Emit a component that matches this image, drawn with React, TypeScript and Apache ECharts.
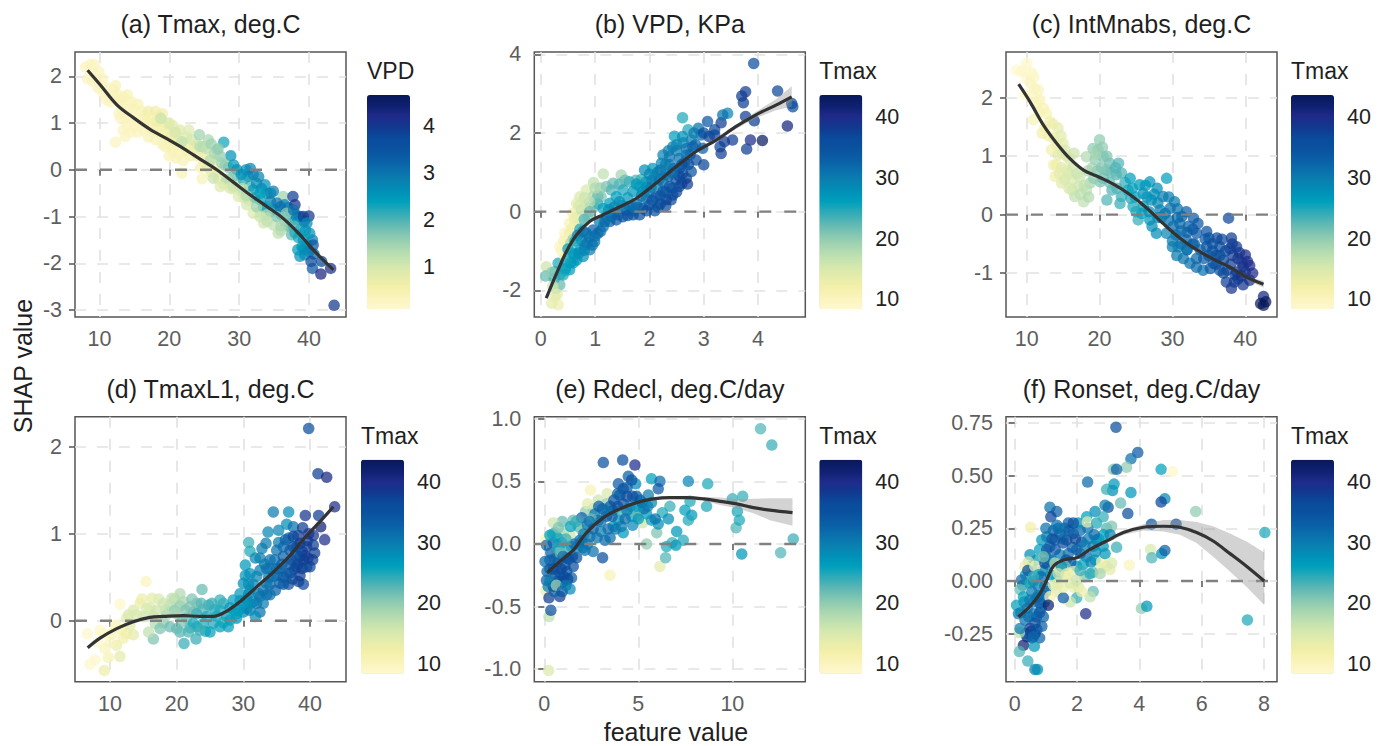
import React, { useEffect, useRef } from "react";
import * as echarts from "echarts";

// ---------- values: [feature value, SHAP value, colour value] ----------
const pointsA = [
[8,2.2,.3],[8.7,2.25,.3],[9.3,2.25,.3],[9.9,2.1,.3],[8.3,1.95,.3],[9,1.9,.3],[9.8,1.75,.3],[10.5,1.95,.3],[10.5,1.65,.3],[11,1.5,.3],[11.6,1.45,.3],[12,1.7,.4],[12.3,1.8,.4],[12.6,1.6,.4],[13,1.4,.4],[13.5,1.55,.4],[14,1.6,.4],[14.2,1.3,.4],[14.6,1.45,.4],[15,1.3,.4],[15.5,1.4,.4],[16,1.25,.4],[16,1.05,.4],[13,1.1,.3],[13.4,.85,.3],[14,.95,.3],[15,.9,.3],[15.5,.8,.3],[16.5,1.15,.5],[17,1.25,.6],[17.5,1,.5],[18,1.25,.6],[18.5,1.15,.6],[19,1.2,.6],[19,.95,.7],[19.5,1,.7],[20,.85,.8],[20.5,.95,.8],[21,.8,.8],[21.5,.85,.9],[17,.7,.4],[18,.65,.4],[19,.55,.4],[20,.55,.5],[21,.5,.5],[22,.55,.7],[22.5,.7,.9],[23,.5,.6],[23,.3,.5],[21,.25,.4],[22,.2,.4],[24,.3,.6],[25,.35,.7],[25,.15,.6],[26,.2,.7],[24.5,.05,.5],[21.8,-.07,.4],[24.7,-.19,.4],[26.5,.05,.7],[27,-.05,.8],[12.3,.59,.3],[13.7,.71,.3],
[12.8,1.2,.3],[13.3,1.25,.3],[13.8,1.1,.3],[14.3,1.15,.3],[14.8,1.05,.3],[15.3,1.1,.3],[15.8,.95,.3],[16.3,.85,.3],[16.6,1,.4],[14.4,.8,.3],[12.9,1.5,.4],[11.2,1.75,.3],[9.2,2.05,.3],[10.3,1.8,.3],[11.5,1.6,.3],
[17.2,.9,.4],[17.8,.8,.4],[18.3,.95,.5],[18.8,.8,.5],[19.3,.75,.5],[19.8,.7,.5],[20.3,.7,.6],[20.8,.65,.6],[21.3,.6,.7],[20,1,.9],[20.8,.8,1],[18.2,1.05,.7],[17.3,1.1,.5],[19.4,.5,.4],[20.5,.4,.4],[21.5,.35,.4],[20,.3,.4],[22.5,.4,.5],[23.5,.45,.7],[24,.55,.9],[23.2,.65,1],[22.8,.85,.9],
[24.3,.75,1.5],[25.6,.64,1.4],[27.8,.59,2.3],[28.8,.3,2.6],[26.8,.43,1.5],[27.3,.29,1.6],[24.4,.5,1.3],[21.8,.6,1.2],[18.8,1.1,1.1],[25.9,.21,1.3],
[24.8,.5,1.3],[25.3,.45,1.2],[26,.55,1.5],[26.5,.35,1.4],[27,.45,1.6],[27.5,.15,1.5],[28,.1,1.6],[28.5,.05,1.7],[25.5,.05,.8],[26,-.05,.7],[27,-.2,.8],[27.8,-.3,.8],[28.5,-.2,1.1],[29,-.4,1],[29.7,-.3,1.3],[30.3,-.45,1.2],[30.7,-.6,1],[31.5,-.65,1.1],[31.5,-.35,2],[32.2,-.6,1.8],[33,-.9,1.1],
[29.2,.1,2.5],[29.7,0,2.6],[31.6,.03,2.8],[31.3,-.14,2.8],[32.5,-.29,2.7],[33.7,-.32,2.6],[34.9,-.46,2.9],[32,-.43,2.5],[30.6,-.21,2.2],[29.2,-.14,1.8],[28.2,-.21,1.3],[26.3,-.18,1.1],[27.3,-.36,.9],[28.7,-.39,.9],[29.9,-.57,.9],[31.1,-.75,1],[32,-.93,.9],[33.5,-1.14,1],[34.9,-1.18,1.2],[35.6,-1.36,1.2],[36.8,-1.21,1.5],[37.5,-1.39,1.9],[36.3,-.57,1.5],
[30.3,-.1,2.6],[31,0,2.7],[32,-.1,2.8],[32.8,-.15,2.8],[33.2,-.4,2.7],[34,-.5,2.6],[34.5,-.5,2.8],[33,-.5,2.4],[34.5,-.9,1.8],[33.5,-.8,2.1],[35,-.85,2.4],[36,-.95,2.3],[36.5,-.75,2.8],[37,-.8,2.9],[37.5,-1,2.6],[38,-.95,3],[36,-1.3,1.3],[36.5,-1.1,1.7],[37.2,-1.2,1.8],[38,-1.35,2.2],[38.5,-1.45,2.3],[39.5,-1.3,2.4],[40.5,-1.5,2.9],[39.7,-1.6,2.6],[39,-1.65,2.5],[38.7,-1.85,2.6],[39.3,-1.7,2.7],[40,-1.75,2.8],[40.7,-1.8,3.2],[39.3,-1.1,3.7],[38.7,-1,3.8],
[37.7,-.57,3.9],[38,-.75,4.1],[35.4,-.71,3],[34.5,-.68,2.9],[35.9,-.79,3.1],[33,-.64,2.4],[34,-.79,2.3],[32.5,-.79,1.5],[34,-.96,1.3],[35.4,-1,1.7],[36.8,-.93,1.6],[37.8,-.86,3],[38.4,-1.07,2.5],[39.2,-1,3.9],[40,-.99,4],[39.7,-1.14,2.7],[40.1,-1.36,2.6],[38.7,-1.29,2.5],[37.8,-1.21,2],[39.2,-1.5,2.5],[40.6,-1.61,3.5],[38.4,-1.71,2.5],[39.4,-1.82,2.7],[40.3,-1.96,3.8],[40.5,-2.11,3.5],[41.8,-1.96,3.7],[41.7,-2.23,4.3],[43.1,-2.11,4.1],[43.6,-2.9,4],
[30.5,-.4,1.2],[31,-.55,1.3],[29.2,-.35,1.1],[33,-1,1.1],[34,-1.1,1.2],[36,-1.2,1.4]
];
const pointsB = [
[.1,-1.4,16],[.09,-1.64,22],[.26,-1.53,25],[.35,-1.86,22],[.26,-2.16,14],[.32,-2.37,13],[.2,-2.33,14],[.41,-1.61,25],[.53,-1.48,26],[.32,-1.31,25],
[.25,-1.7,24],[.35,-1.6,25],[.2,-1.55,20],[.45,-1.5,25],[.28,-1.95,20],[.22,-1.9,16],[.3,-2.1,14],[.6,-1.3,26],
[1.15,.96,17],[.97,.74,17],[.84,.55,15],[.72,.38,15],[.66,.21,14],[.59,-.04,12],[.53,-.3,11],[.44,-.55,10],[.35,-.89,10],[.53,-.55,13],[.66,-.13,14],[.81,.13,16],[.72,-.3,15],[.87,-.13,20],[.99,.13,21],[1.11,.38,21],[.96,.38,18],[1.21,.64,21],[1.48,.93,19],[1.33,.72,22],
[1.05,.2,24],[1.05,.4,22],[1.1,.6,20],[1,.6,18],[.9,.25,18],[.8,.35,16],[.75,.05,17],[.7,.15,15],[.62,-.2,13],[.58,-.42,12],[.48,-.72,10],[.42,-.75,11],[.38,-1,10],[.45,-1.15,13],[.6,-.7,20],[.55,-.8,18],[.72,-.45,25],[.8,-.2,23],[.9,0,22],[1.3,.55,23],[1.45,.7,23],[1.55,.8,22],[1.75,.8,23],[1.85,.82,24],
[1.63,.76,24],[1.51,.55,25],[1.39,.38,26],[1.27,.21,26],[1.15,.08,26],[1.7,.51,27],[1.82,.64,26],[1.94,.76,27],[1.91,1.06,28],[2.06,1.1,27],[2.09,.89,29],[2.22,1.23,29],[2.25,1.44,29],[2.43,1.65,29],[2.37,1.4,31],[2.46,1.92,26],[2.61,2.39,25],[2.71,2.08,25],[2.61,1.91,28],[2.77,1.82,30],
[1.6,.35,27],[1.85,.4,28],[2,.5,29],[1.95,.62,28],[2.15,.65,30],[2.25,.75,31],[2.05,.8,30],[2.35,.9,32],[2.2,1.05,31],[2.45,1.1,33],[2.55,1.1,33],[2.65,1.25,33],[2.35,1.55,30],[2.5,1.7,29],[2.62,1.75,29],[2.75,1.45,33],[2.85,1.7,32],[2.95,1.95,32],[2.82,2,30],
[.66,-1.23,27],[.78,-1.14,28],[.9,-.97,30],[.72,-.97,27],[.81,-.85,30],[.99,-.76,31],[1.05,-.55,31],[.84,-.55,31],[1.15,-.38,31],[.96,-.47,33],[1.27,-.25,33],[1.39,-.21,34],[1.51,-.13,35],[1.7,-.08,35],[1.82,-.08,36],[1.57,.04,33],[1.88,.08,34],[2,.17,35],[2.16,.11,36],[2.31,.3,37],[2.43,.42,36],[2.55,.64,37],[2.68,.85,37],[2.77,1.02,35],[2.61,.97,37],[2.49,.81,36],[2.37,.64,34],[2.25,.51,33],[2.12,.38,34],[1.94,.34,32],[1.76,.21,32],[1.63,.13,32],[1.33,-.04,33],[1.21,-.13,30],[1.08,-.25,30],[.59,-1.06,27],
[.55,-1.3,27],[.45,-1.45,26],[.62,-1.1,27],[.7,-1.05,28],[.8,-.98,29],[.85,-.8,30],[.75,-.72,30],[.68,-.6,30],[.78,-.5,31],[.9,-.65,31],[1,-.62,31],[1.1,-.5,32],[1.18,-.25,32],[1.3,-.12,32],[1.42,-.08,33],[1.6,-.1,35],[1.7,.02,34],[1.8,.1,33],[1.95,.02,36],[2.1,.02,36],[2.2,.2,36],[2.05,.28,35],[2.3,.15,37],[2.4,.3,37],[2.5,.5,37],[2.6,.72,37],[2.7,.7,38],[2.55,.9,37],[2.42,.6,35],[2.3,.5,35],[2.2,.4,35],[1.7,.12,31],[1.5,.15,30],[1.45,.25,28],[1.35,.12,29],[1.25,.05,28],
[2.9,2.12,31],[3.07,2.29,34],[3.2,2.08,37],[3.1,1.91,38],[2.98,1.61,33],[2.68,1.44,32],[2.86,1.31,36],[3,1.19,37],[3.3,1.65,37],[3.32,1.48,38],[3.38,1.78,38],[3.53,1.82,38],[3.32,2.26,38],[3.44,2.5,29],[3.35,2.46,31],[3.7,2.94,38],[3.77,3.05,38],[3.73,2.77,38],[3.77,2.42,38],[3.93,2.31,38],[3.86,1.82,40],[3.79,1.59,38],[4.08,1.81,43],[3.92,3.77,36],[4.36,3.07,37],[4.54,2.18,41],[4.62,2.75,37],[4.64,2.67,36],
[1.76,.7,27],[1.88,.52,28],[2.03,.62,30],[2.18,.82,31],[2.3,.95,31],[2.43,1,32],[2.37,1.2,31],[2.55,1.35,31],[2.68,1.6,31],[2.5,1.55,30],[2.3,1.2,30],[2.15,1,30],[2.0,.95,29],[.95,-.85,31],[.63,-.75,26],[.5,-.95,26],[.47,-1.25,26],[2.6,1.2,34],[2.8,1.65,33],[3.2,1.95,37],[3,2,36],[2.72,1.2,36]
];
const pointsC = [
[8.6,2.47,8.5],[10,2.59,9],[9.3,2.45,9],[10.7,2.42,9.5],[10,2.33,9],[11.1,2.16,10],[11.6,2.13,10],[9.8,2.05,9.5],[10.7,2.05,10],[11.8,1.96,11],[12.3,1.82,11],[10.9,1.62,11],[12.7,1.73,11],[13.2,1.59,12],[12.1,1.39,12],[14.3,1.48,14],[13.7,1.31,13],[15,1.22,14],[13.4,1.11,12],[14.3,1.02,14],[13.7,.85,12],[13.9,.65,12],[14.8,.54,14],[15.5,.76,15],[16.2,.59,15],[16.6,.31,17],[17.8,.22,17],[18.2,.42,17],[17.3,.65,16],[16.4,.82,16],[17.1,.48,16],[18.7,.54,19],[18.2,.99,18],[19.1,1.13,20],[20,1.28,20],[19.8,1.11,20],[19.4,.94,20],[20.5,.99,21],[21.4,.88,22],[22.6,.88,23],[21,.76,21],[23,.71,23],[22.3,.68,23],[20.1,.56,21],[21,.25,23],[21.7,.42,23],[23,.31,24],[22.8,.19,24],
[11,2.35,9.5],[9.8,2.45,9],[10.5,2.25,10],[11.3,1.9,10.5],[11.7,1.75,11],[12.5,1.5,12],[13,1.35,12],[13.6,1.55,13],[14.2,1.2,13],[14.7,1.35,14],[14.9,1.05,14],[15.3,1.1,15],[15.9,.95,15],[14.1,.85,13],[14.5,.7,14],[15.2,.6,15],[15.8,.7,15],[16.2,.42,16],[16.9,.7,16],[17.4,.35,17],[17.9,.5,17],[18.5,.3,18],[18.4,.75,18],[19,.8,19],[19.2,.62,20],[19.7,.75,20],[20.3,.8,21],[20.5,.62,22],[19.5,1.03,19],[20.4,1.15,20],[21,1,21],[21.6,.72,22],[22.2,.8,23],[21.4,.55,22],[22.4,.45,23],[23.5,.55,24],
[24.2,.62,26],[25.5,.51,27],[23.9,.42,25],[26.9,.56,27],[27.9,.45,28],[29.2,.62,26],[26,.36,28],[24.6,.14,25],[25.3,-.09,24],[26,.14,27],[27.1,.25,28],[28.7,.31,30],[30.3,.22,30],[28.3,.08,30],[29.7,.11,31],[31.9,.05,33],[31.3,-.03,33],[32.9,-.06,34],[37.7,-.06,37],[26.9,-.09,27],[27.8,-.32,28],[29,.02,31],[30.1,-.2,32],[29.2,-.32,29],[30.8,-.55,30],[31.5,-.75,31],[32.4,-.83,31],[34.2,-.95,31],[33.3,-.75,32],[31.9,-.43,33],[33.3,-.32,34],[34.7,-.29,35],[34.7,-.55,34],[36.1,-.4,37],[36.5,-.55,36],[38.1,-.4,38],[35.6,-.83,35],[37.9,-.58,38],[37,-.78,37],[40,-.69,40],[38.8,-.55,38],[40.6,-.87,40],[39.7,-.89,39],[38.1,-1.26,39],[37.4,-1.15,38],[39.7,-1.2,39],[40.6,-1.12,39],[38.6,-1.03,38],[42.5,-1.4,41],[42.1,-1.52,43],[42.8,-1.49,44],[42.5,-1.55,44],
[24.5,.45,26],[24.9,.3,26],[25,.05,25],[24.3,.28,25],[25.8,.02,26],[26.5,.3,27],[26.3,.5,27],[27.5,.35,28],[28,.2,29],[28,-.05,29],[27.2,-.2,28],[26.8,.05,28],[29.5,.3,30],[30.7,.1,31],[29.5,-.1,31],[30.5,-.35,31],[31,-.15,32],[32,-.3,33],[32.8,-.25,34],[33.5,-.15,34],[30,-.55,30],[30.6,-.7,30],[31.2,-.5,31],[32,-.6,32],[32.8,-.5,33],[33.3,-.9,32],[33.8,-.6,33],[34.3,-.75,34],[35,-.4,35],[35.5,-.62,35],[36,-.85,36],[35.2,-.92,34],[34.5,-.42,34],[36.8,-.42,37],[37.3,-.62,37],[37.5,-.95,37],[38.3,-.7,38],[38.8,-.98,38],[39.2,-.65,39],[39.5,-.82,39],[38.5,-1.15,38],[39,-1.1,38],[40,-.98,39],[40.3,-.8,40],[37,-1,37],[36.5,-.7,36],[39.5,-1.05,39],[38.2,-.5,38],[41,-1,40],
[15.5,1,15],[16.5,1.05,16],[14.8,.8,14],[15.8,.45,15],[28.5,-.05,30],[30.7,-.05,32],[32.2,-.2,33],[31.2,-.28,32],[33,-.5,33],[35.5,-.5,35],[36,-.7,36],[38,-.85,38],[39,-.75,39],[36.5,-.95,36],[35,-.7,34],[32,-.6,31],[30,-.45,30]
];
const pointsD = [
[6.6,-.15,9],[8.5,-.11,9],[10.8,-.05,11],[13.5,-.16,14],[12.5,-.15,13],[11,-.28,13],[11.5,-.41,14],[9.75,-.42,11],[9.25,-.32,10],[7.75,-.45,9],[7,-.5,9],[9.15,-.57,13],
[8.2,-.25,9],[9,-.15,9.5],[10,-.25,10],[10.3,-.15,11],[11.8,-.1,12],[12,-.2,12],[13,-.05,14],[12.5,.03,14],[13.5,.12,15],[14.5,.2,13],[15,.05,16],[16,.15,15],[16.5,.05,17],[17.3,.25,15],[18.3,.12,17],[19,.18,18],[19.7,.25,17],[19.7,.12,20],[20.5,.17,20],[21,.22,19],[21.3,.12,21],[22.5,.1,22],[23,.2,22],[22.3,.25,21],[24,.13,23],[24.8,.18,24],[25.7,.13,25],[26.5,.12,25],[27,.2,25],[27.5,.05,26],[27,-.02,25],[25.5,-.03,25],[23,-.07,25],[18,-.02,20],[16.8,-.03,18],[20.5,-.13,23],[22,-.08,25],[24.3,-.12,25],
[26.5,.24,24],[25.3,.2,24],[23.8,.36,22],[23.7,.2,23],[22,.16,21],[20.5,.31,18],[19.3,.26,17],[18,.2,16],[16.3,.26,14],[14.8,.25,13],[15.4,.45,10],[11.5,.19,9],[12.8,.07,15],[14,.07,15],[15.5,.14,15],[17,.12,16],[18.5,.07,18],[20,.08,19],[21.5,.03,22],[23,.08,24],[24.5,.05,25],[26,.05,25],[24,-.03,25],[22.5,-.03,25],[20.75,-.01,21],[19,-.07,22],[17.5,-.09,21],[16.5,-.21,21],[15.8,-.13,17],[21.1,-.26,24],[22.9,-.21,24],[21.8,-.13,23],[25,-.13,26],[23.5,-.11,24],[26.5,-.07,26],[27.75,-.07,26],[20,-.09,22],
[28,.15,27],[28.7,.12,27],[29,.03,27],[29.5,.23,28],[30,.1,28],[30.5,.25,29],[31,.12,30],[31.5,.22,29],[32,.2,31],[32.5,.28,30],[33,.35,31],[33.5,.3,32],[34,.42,31],[34.8,.35,33],[35,.52,31],[35.5,.6,32],[36,.42,34],[36.8,.42,35],[37,.55,35],[37.7,.6,36],[38.2,.65,37],[38.8,.6,38],[39.2,.75,38],[39.7,.72,38],[40,.62,37],[40.7,.78,38],[38.3,.45,38],[39,.42,37],[30.3,.52,27],[30.8,.42,28],[31.5,.42,29],[32.5,.72,30],[33.2,.65,30],[34,.6,31],[34.7,.7,31],[35.3,.9,30],[36,.85,32],[36.8,.95,32],[37.5,.85,36],[38.2,.98,38],[38.8,.8,38],[39.6,.92,38],[40.5,.98,39],[37.2,.7,36],
[34.5,1.25,30],[36.8,1.25,28],[39.3,1.21,39],[41.3,1.21,38],[42.2,.93,40],[41.6,1.08,42],[30.8,.9,24],[31,.8,25],[33.7,1.02,29],[35.3,1.04,29],[36.5,1.11,28],[37.5,1.08,31],[38.9,1.07,38],[33.4,.89,30],[32.8,.83,30],[31.8,.72,29],[30.3,.64,27],[30,.43,28],[31,.54,28],[32.5,.58,30],[34,.7,31],[35,.81,31],[36.3,.93,33],[37.5,.97,37],[38.5,.89,38],[39.8,1,39],[40.5,.87,38],[39.5,.85,38],[38,.85,37],[37,.81,34],[36,.74,33],[38.5,.74,37],[40.4,.7,38],[39.5,.62,37],[38.5,.52,38],[37.4,.48,37],[36.5,.54,34],[35.5,.43,33],[34.5,.51,32],[33.5,.43,31],[32,.51,29],[32.3,.31,31],[30.8,.31,29],[29.5,.31,27],[28.5,.24,26],[32.5,.1,31],[31.8,.05,28],[30.5,.14,29],[29.3,.12,27],[28,.01,26],
[39.8,2.21,36],[41.2,1.69,38],[42.5,1.65,41],[43.7,1.31,40],
[34,.3,31],[33,.2,30],[35,.6,32],[36,.5,34],[37,.65,35],[38,.62,37],[39,.7,38],[37.8,.75,36],[33.5,.6,31],[31,.2,28],[30,.2,27],[29,.08,26],[31,.35,28],[33.8,.5,31],[35.8,.65,33]
];
const pointsE = [
[3.49,-.25,11],[6.15,-.18,14],[5.44,0,20],[2.46,.43,11],[3.35,.4,15],[2.87,.35,16],[3.31,.32,20],[1.54,.19,22],[.96,.18,22],[.48,.17,16],[.09,.04,11],[.57,.09,20],[1.01,.09,19],[1.37,.07,16],[1.81,.14,24],[1.99,.11,20],[.66,-.06,17],[.39,-.26,18],[.09,-.37,13],[.25,-.58,17],[.23,-1.01,15],[5.98,.09,21],[5.23,.17,16],[2.6,.28,19],[2.2,.26,20],[2.3,.32,14],
[11.5,.92,23],[12.1,.79,24],[3.14,.65,35],[4.17,.67,36],[4.82,.63,40],[3.1,-.11,36],[13.24,.04,24],[12.57,-.07,23],[10.5,-.08,27],[10.2,.13,23],[10.37,.19,25],[10.27,.26,25],[10.55,.38,24],[10,.36,24],[8.63,.3,25],[8.69,.48,25],[7.66,.5,29],[7.75,.34,25],[7.48,.27,26],[7.84,.23,27],[7.66,.19,25],[6.45,-.11,23],[6.5,-.02,25],[6.8,.01,24],[7.04,.1,27],[7,-.01,27],[7.39,.03,25],[5.7,.52,26],[6.15,.5,32],[6.06,.44,34],[6.68,.3,24],[6.28,.25,25],[6.6,.2,28],[6.06,.16,28],[5.7,.19,26],[5.44,.24,27],[5.53,.39,30],[4.91,.38,33],[4.47,.54,33],[4.86,.48,28],[4.65,.51,35],[3.94,.48,34],[4.2,.44,35],[3.67,.27,32],[4.2,.32,35],[4.02,.39,35],[4.56,.3,30],[5.09,.27,24],[4.65,.22,26],[4.2,.09,27],[3.67,.14,27],[3.94,.19,28],[3.31,.22,35],[3.23,.03,32],[2.87,.19,32],[2.7,.24,31],[2.43,.06,31],[2.6,-.06,31],[2.16,-.05,31],[1.99,.21,33],[.12,-.01,32],[.48,.01,34],[.92,.01,30],[1.45,-.02,29],[.3,-.13,33],[.04,-.14,32],[.74,-.14,34],[1.19,-.11,33],[1.72,-.11,36],[1.54,-.18,36],[1.19,-.22,34],[1.45,-.27,33],[.12,-.29,33],[1.37,-.36,28],[.83,-.23,35],[.92,-.31,33],[.21,-.34,30],[.48,-.34,36],[.25,-.43,38],[.83,-.42,38],[.35,-.53,36],
[3,.1,30],[2.3,.15,30],[3.5,.3,34],[3.9,.3,36],[4.4,.38,36],[5.1,.35,33],[5.3,.28,31],[4.1,.25,24],[4.9,.22,22],[2,.02,31],[1.2,-.02,25],[.7,.05,26],[.3,-.2,35],[1,-.3,36],[.6,-.25,35],[2.9,.3,33],[2.5,.2,22],
[.15,-.22,32],[.35,-.07,33],[.55,-.12,33],[.7,-.03,25],[.85,-.07,22],[1,-.1,32],[1.1,-.17,35],[1.3,-.12,35],[.5,-.2,36],[.7,-.3,35],[.9,-.2,37],[1.05,-.26,36],[1.25,-.28,37],[.3,-.3,30],[.55,-.38,33],[.65,-.33,19],[.95,-.38,34],[1.15,-.33,30],[1.5,-.1,36],[1.6,0,32],[1.75,-.03,30],[1.9,.03,32],[2.05,-.03,31],[2.3,0,31],[2.1,.08,30],[1.4,.14,26],[1.7,.18,24],[1.15,.04,24],[.45,.08,24],[.75,.13,21],[.3,.07,26],[2.4,.18,31],[2.6,.12,33],[2.8,.05,31],[3,.18,31],[3.1,.28,33],[3.4,.12,32],[3.5,.05,32],[3.6,.22,33],[3.8,.12,31],[3.7,.35,35],[4.1,.14,30],[4.3,.2,32],[4.4,.27,30],[4.7,.15,29],[4.9,.3,27],[5,.2,27],[5.2,.33,31],[5.5,.3,30],[5.7,.33,29],[5.9,.2,31],[4.4,.45,34],[4.7,.38,36],[3.9,.4,33],[3.3,.26,31]
];
const pointsF = [
[.2,-.15,30],[.3,-.1,31],[.45,-.17,32],[.55,-.27,36],[.7,-.17,34],[.8,-.27,33],[.35,-.25,38],[.52,-.24,40],[.65,-.25,38],[.85,-.13,32],[.95,-.1,31],[.7,-.08,33],[.6,-.1,32],[.25,-.02,28],[.35,.03,26],[.45,0,23],[.55,.07,27],[.7,.1,26],[.75,-.07,31],[.9,.05,30],[.98,.12,32],[.8,.15,26],[1.05,.08,30],[1.15,.1,32],[1.15,.03,26],
[.22,.005,32],[.49,.125,28],[.44,.09,16],[.33,.07,13],[.42,.05,36],[.65,.07,11],[.87,.195,27],[1.03,.15,34],[.97,.085,36],[.76,.03,26],[.49,-.01,25],[.17,-.04,22],[.28,-.075,26],[.06,-.115,26],[.49,-.09,30],[.81,-.105,33],[.76,-.025,30],[.97,-.025,31],[.6,-.155,31],[.33,-.185,31],[.12,-.155,30],[.49,-.225,38],[.71,-.23,35],[.87,-.215,33],[.92,-.17,33],[.39,-.265,35],[.15,-.245,17],[.17,-.225,30],[.28,-.305,42],[.15,-.335,23],[.63,-.31,27],[.42,-.38,24],[.65,-.42,30],[.73,-.42,28],[.6,-.265,32],
[1.13,.165,34],[1.29,.195,34],[1.45,.225,34],[1.67,.195,38],[1.88,.225,33],[2.15,.185,35],[2.36,.2,30],[2.63,.195,27],[2.52,.165,30],[2.84,.165,27],[1.99,.15,33],[1.72,.13,32],[1.45,.125,30],[2.31,.115,31],[2.58,.1,26],[1.99,.07,27],[1.03,.21,30],[1.24,.24,33],[1.35,.015,26],[1.65,.1,35],[1.8,.09,34],[1.55,.2,32],[1.3,.15,34],[1.4,.25,32],[1.85,.16,33],[1.95,.2,37],[2.1,.13,33],[2.25,.17,30],[2.2,.08,26],[2.45,.09,29],[2.6,.14,28],[2.7,.2,27],[2.95,.25,23],[2.85,.22,26],[2.35,.25,31],[2.55,.22,32],[1.2,.2,35],[1.6,.25,31],[.6,0,28],[1,-.05,32],
[.8,-.15,34],[.65,-.2,36],[.4,-.13,31],[.55,-.05,30],[.9,-.07,32],[1.2,.1,30],[1.55,.18,35],[1.75,.24,34],[2.1,.24,32],[.85,.02,32],[.6,.02,24],[1,.25,31],
[.92,.115,21],[1.29,.085,17],[1.61,.07,21],[1.88,.045,14],[1.25,-.02,15],[1.35,-.05,14],[1.45,.05,18],[1.5,.07,28],[2.75,.06,14],[2.95,.07,15],[1.65,.02,14],[1.9,-.03,13],[2.05,-.03,15],[2.25,.02,21],[2.5,.04,22],
[3.25,.73,36],[3.95,.61,34],[3.73,.58,31],[3.59,.54,20],[3.17,.53,21],[3.27,.53,33],[2.34,.47,32],[4.7,.53,26],[5.06,.52,9],[4.82,.39,29],[4.7,.375,37],[5.81,.33,20],[8.03,.23,25],[4.39,.27,34],[5.18,.27,36],[3.73,.42,27],[3.63,.32,36],[3.4,.37,22],[3.14,.43,28],[2.95,.435,24],[3.19,.46,27],[3,.35,36],[2.9,.36,30],[2.58,.33,28],[2.31,.305,26],[1.13,.35,31],[1.35,.33,33],[1.16,.305,37],[.51,.255,12],[1.35,.265,31],[1.72,.275,33],[2.04,.275,28],[1.88,.275,36],[2.33,.28,14],[2.63,.275,25],[2.84,.305,24],[3.11,.26,21],[3.06,.22,29],[3.27,.16,24],[4.36,.15,15],[4.4,.11,23],[4.72,.13,28],[4.82,.145,33],[3.68,.075,10],[3.06,.055,14],[2.79,.09,13],[3.11,.085,15],[2.9,.13,27],[2.42,.035,25],[2.74,.035,19],[2.52,-.05,22],[2.42,-.075,17],[1.99,-.08,24],[1.78,-.1,16],[1.56,-.08,34],[2.15,-.05,13],[1.56,-.03,13],[1.4,-.01,14],[1.78,-.01,15],[1.99,.005,16],[2.1,.05,24],[1.67,.035,13],[1.4,.035,16],[1.13,-.075,11],[1.08,-.115,42],[2.28,-.155,40],[4.07,-.13,20],[4.24,-.12,27],[7.47,-.185,25]
];

const curveA = [[8.3,2.13],[10.1,1.82],[12.5,1.39],[14.9,1.11],[17.3,.86],[19.7,.66],[22,.46],[24.4,.23],[26.8,0],[29.2,-.27],[31.6,-.54],[34,-.79],[36.3,-1.04],[38.7,-1.39],[41.1,-1.79],[43.5,-2.14]];
const curveB = [[.1,-2.2],[.29,-1.57],[.47,-1.02],[.66,-.59],[.9,-.25],[1.15,-.08],[1.39,.08],[1.76,.34],[2.12,.72],[2.49,1.14],[2.86,1.53],[3.23,1.82],[3.59,2.16],[3.96,2.46],[4.33,2.71],[4.62,2.92]];
const curveC = [[8.9,2.23],[10.5,1.92],[12.3,1.53],[14.1,1.22],[15.9,.96],[17.8,.76],[19.6,.66],[21.9,.52],[24.2,.34],[26.5,.11],[28.7,-.15],[31,-.4],[33.3,-.6],[35.6,-.76],[37.9,-.9],[40.2,-1.07],[42.5,-1.19]];
const curveD = [[6.65,-.31],[8.5,-.2],[11,-.09],[13.5,-.01],[16,.04],[18,.05],[21,.06],[23.5,.05],[25.5,.05],[27.5,.11],[29.5,.22],[32,.39],[34.5,.56],[37,.75],[39.5,.98],[41.5,1.14],[43.5,1.31]];
const curveE = [[.16,-.23],[.83,-.14],[1.54,-.05],[2.25,.09],[3.14,.21],[4.02,.28],[4.91,.33],[5.8,.36],[6.68,.37],[7.57,.37],[8.46,.36],[9.34,.34],[10.23,.32],[11.12,.29],[12,.27],[13.2,.25]];
const curveF = [[.12,-.17],[.49,-.12],[.81,-.06],[1.03,.005],[1.24,.07],[1.56,.1],[1.99,.11],[2.42,.15],[2.95,.19],[3.49,.23],[4.13,.255],[4.77,.26],[5.3,.255],[5.84,.23],[6.37,.19],[6.91,.13],[7.44,.07],[8.01,0]];

// confidence ribbons: [x, lower, upper]
const bandB = [[3,1.62,1.68],[3.59,2.1,2.2],[3.96,2.38,2.54],[4.33,2.58,2.86],[4.62,2.67,3.19]];
const bandC = [[39,-1.02,-.96],[40.2,-1.1,-1.04],[41.5,-1.19,-1.1],[42.5,-1.25,-1.13]];
const bandE = [[5.8,.35,.37],[6.68,.36,.38],[7.57,.355,.385],[8.46,.345,.375],[9.34,.31,.37],[10.23,.285,.357],[11.12,.245,.36],[12,.19,.365],[13.2,.146,.365]];
const bandF = [[2.95,.18,.2],[3.49,.22,.24],[4.13,.24,.27],[4.77,.235,.29],[5.3,.22,.29],[5.84,.18,.28],[6.37,.115,.26],[6.91,.045,.225],[7.44,-.027,.187],[8.01,-.114,.135]];

const ticksXA = [10,20,30,40], ticksYA = [-3,-2,-1,0,1,2];
const ticksXB = [0,1,2,3,4], ticksYB = [-2,0,2,4];
const ticksXC = [10,20,30,40], ticksYC = [-1,0,1,2];
const ticksXD = [10,20,30,40], ticksYD = [0,1,2];
const ticksXE = [0,5,10], ticksYE = [-1,-.5,0,.5,1];
const ticksXF = [0,2,4,6,8], ticksYF = [-.25,0,.25,.5,.75];
const ticksVpd = [1,2,3,4], ticksTmax = [10,20,30,40];

const titles = ["(a) Tmax, deg.C","(b) VPD, KPa","(c) IntMnabs, deg.C","(d) TmaxL1, deg.C","(e) Rdecl, deg.C/day","(f) Ronset, deg.C/day"];
const barColors = ["#fff8d0","#faf4bd","#f4f0aa","#e6ecab","#d4e8ae","#bcdfb0","#a3d4b0","#82c6b2","#5db7b4","#30abb8","#00a0bc","#0090b8","#0a80b0","#0a6fac","#0a5ea6","#0a52a0","#0a4a9c","#12388f","#1e2a8a","#0e2070","#08195a"];

const panels = [
 { pts: pointsA, curve: curveA, band: null,  x: 75,   y: 52,  xr: [6.5,45.3],   yr: [-3.15,2.52], xt: ticksXA, yt: ticksYA, leg: "VPD",  cr: [.1,4.66], ct: ticksVpd, bx: 367,  fmt: (v:number)=>String(v) },
 { pts: pointsB, curve: curveB, band: bandB, x: 534.3,y: 52,  xr: [-.12,4.87],  yr: [-2.68,4.06], xt: ticksXB, yt: ticksYB, leg: "Tmax", cr: [8.4,43.7], ct: ticksTmax, bx: 819.3,fmt: (v:number)=>String(v) },
 { pts: pointsC, curve: curveC, band: bandC, x: 1006, y: 52,  xr: [7.16,44.35], yr: [-1.75,2.78], xt: ticksXC, yt: ticksYC, leg: "Tmax", cr: [8.4,43.7], ct: ticksTmax, bx: 1291, fmt: (v:number)=>String(v) },
 { pts: pointsD, curve: curveD, band: null,  x: 75,   y: 416.7,xr: [4.75,45.4], yr: [-.7,2.345],  xt: ticksXD, yt: ticksYD, leg: "Tmax", cr: [8.4,43.7], ct: ticksTmax, bx: 361,  fmt: (v:number)=>String(v) },
 { pts: pointsE, curve: curveE, band: bandE, x: 534.3,y: 416.7,xr: [-.53,13.88],yr: [-1.1,1.016], xt: ticksXE, yt: ticksYE, leg: "Tmax", cr: [8.4,43.7], ct: ticksTmax, bx: 819.3,fmt: (v:number)=>v.toFixed(1) },
 { pts: pointsF, curve: curveF, band: bandF, x: 1006, y: 416.7,xr: [-.28,8.42], yr: [-.478,.78],  xt: ticksXF, yt: ticksYF, leg: "Tmax", cr: [8.4,43.7], ct: ticksTmax, bx: 1291, fmt: (v:number)=>v.toFixed(2) },
];

const FONT = "Liberation Sans";
const PW = 271, PH = 265, BW = 43, BH = 214;

function buildOption() {
  const grid: any[] = [], xAxis: any[] = [], yAxis: any[] = [], series: any[] = [], visualMap: any[] = [], graphic: any[] = [];
  const tickStyle = { show: true, length: 6, lineStyle: { color: "#555", width: 1.5 } };
  const split = { show: true, lineStyle: { color: "#e2e2e2", width: 1.6, type: [11, 11] } };
  panels.forEach((p, i) => {
    grid.push({ left: p.x, top: p.y, width: PW, height: PH, show: true, borderColor: "#555", borderWidth: 1.5, backgroundColor: "transparent" });
    xAxis.push({ type: "value", gridIndex: i, min: p.xr[0], max: p.xr[1], axisLine: { show: false },
      axisTick: { ...tickStyle, customValues: p.xt }, splitLine: split,
      axisLabel: { customValues: p.xt, color: "#5e5e5e", fontFamily: FONT, fontSize: 21.5, margin: 11, hideOverlap: false } });
    yAxis.push({ type: "value", gridIndex: i, min: p.yr[0], max: p.yr[1], axisLine: { show: false },
      axisTick: { ...tickStyle, customValues: p.yt }, splitLine: split,
      axisLabel: { customValues: p.yt, formatter: p.fmt, color: "#5e5e5e", fontFamily: FONT, fontSize: 21.5, margin: 13, hideOverlap: false } });
    const scatterIndex = series.length;
    series.push({ type: "scatter", xAxisIndex: i, yAxisIndex: i, data: p.pts, symbolSize: 11.5, z: 2, silent: true,
      itemStyle: { opacity: 0.72 }, encode: { x: 0, y: 1 } });
    series.push({ type: "line", xAxisIndex: i, yAxisIndex: i, data: [[p.xr[0], 0], [p.xr[1], 0]], symbol: "none", z: 3, silent: true,
      lineStyle: { color: "#808080", width: 2.4, type: [12, 13] } });
    if (p.band) {
      const band = p.band;
      series.push({ type: "custom", xAxisIndex: i, yAxisIndex: i, z: 4, silent: true, data: band, encode: { x: 0, y: [1, 2] },
        renderItem: (params: any, api: any) => {
          if (params.dataIndex !== 0) return null;
          const up = band.map((r) => api.coord([r[0], r[2]]));
          const lo = band.map((r) => api.coord([r[0], r[1]])).reverse();
          return { type: "polygon", shape: { points: up.concat(lo) }, style: { fill: "rgba(150,150,150,0.42)" } };
        } });
    }
    series.push({ type: "line", xAxisIndex: i, yAxisIndex: i, data: p.curve, smooth: 0.35, symbol: "none", z: 5, silent: true,
      lineStyle: { color: "#333", width: 3.2 } });
    visualMap.push({ type: "continuous", seriesIndex: scatterIndex, dimension: 2, min: p.cr[0], max: p.cr[1], show: true, calculable: false,
      hoverLink: false, orient: "vertical", left: p.bx, top: p.y + 43, itemWidth: BW, itemHeight: BH, padding: 0, inRange: { color: barColors } });
    graphic.push({ type: "text", x: p.x + PW / 2, y: p.y - 28, silent: true,
      style: { text: titles[i], font: `25px "${FONT}"`, fill: "#1f1f1f", textAlign: "center", textVerticalAlign: "middle" } });
    graphic.push({ type: "text", x: p.bx, y: p.y + 19, silent: true,
      style: { text: p.leg, font: `23px "${FONT}"`, fill: "#1f1f1f", textAlign: "left", textVerticalAlign: "middle" } });
  });
  panels.forEach((p, i) => {
    const g = grid.length;
    grid.push({ left: p.bx, top: p.y + 43, width: BW, height: BH, show: false });
    xAxis.push({ type: "value", gridIndex: g, min: 0, max: 1, show: false });
    yAxis.push({ type: "value", gridIndex: g, min: p.cr[0], max: p.cr[1], position: "right", axisLine: { show: false }, axisTick: { show: false }, splitLine: { show: false },
      axisLabel: { customValues: p.ct, color: "#222", fontFamily: FONT, fontSize: 21.5, margin: 13, hideOverlap: false } });
  });
  graphic.push({ type: "text", x: 23, y: 366, rotation: Math.PI / 2, silent: true,
    style: { text: "SHAP value", font: `25px "${FONT}"`, fill: "#1f1f1f", textAlign: "center", textVerticalAlign: "middle" } });
  graphic.push({ type: "text", x: 676, y: 732, silent: true,
    style: { text: "feature value", font: `25px "${FONT}"`, fill: "#1f1f1f", textAlign: "center", textVerticalAlign: "middle" } });
  return { animation: false, backgroundColor: "#fff", grid, xAxis, yAxis, series, visualMap, graphic };
}

export default function App() {
  const ref = useRef<HTMLDivElement>(null);
  useEffect(() => {
    document.body.style.margin = "0";
    const chart = echarts.init(ref.current!, undefined, { renderer: "svg" });
    chart.setOption(buildOption() as any);
    return () => chart.dispose();
  }, []);
  return <div ref={ref} style={{ position: "absolute", left: 0, top: 0, width: 1389, height: 746 }} />;
}
